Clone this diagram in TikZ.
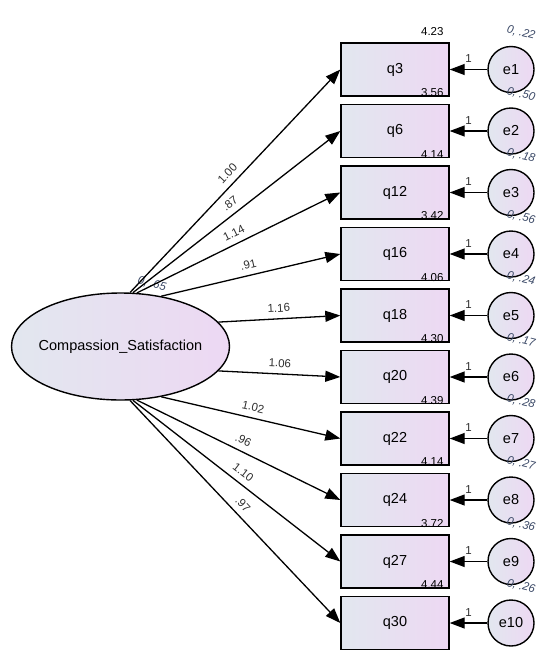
\documentclass[tikz,border=0pt]{standalone}
\usepackage{fontspec}
\setmainfont{Liberation Sans}
\usetikzlibrary{arrows.meta,shapes.geometric}
\definecolor{fillL}{HTML}{E2E7EF}
\definecolor{fillR}{HTML}{EDD8F3}
\definecolor{varblue}{HTML}{3A4866}
\definecolor{coefgray}{HTML}{2E2E2E}
\tikzset{
  obsbox/.style={draw,line width=1.4pt,minimum width=108pt,minimum height=53pt,
    left color=fillL,right color=fillR,font=\fontsize{14.5}{16}\selectfont},
  errcirc/.style={circle,draw,line width=1.4pt,minimum size=46pt,inner sep=0pt,
    left color=fillL,right color=fillR,font=\fontsize{14.5}{16}\selectfont},
  latent/.style={ellipse,draw,line width=1.4pt,minimum width=218pt,minimum height=107pt,
    inner sep=0pt,left color=fillL,right color=fillR,
    label={[font=\fontsize{14.5}{16}\selectfont]center:#1}},
  load/.style={-{Triangle[length=15pt,width=11pt]},line width=1.3pt},
  coef/.style={font=\fontsize{11.5}{13}\selectfont,text=coefgray,sloped,above=4pt,
    pos=0.5,inner sep=2pt},
  onelbl/.style={font=\fontsize{11.5}{13}\selectfont,text=coefgray,above=4pt,
    midway,inner sep=2pt},
  icpt/.style={font=\fontsize{11.5}{13}\selectfont,inner sep=0pt},
  varlbl/.style={font=\itshape\fontsize{11.5}{13}\selectfont,text=varblue,rotate=-14,
    inner sep=0pt}
}
\begin{document}
\begin{tikzpicture}[x=1pt,y=-1pt]
\useasboundingbox (0,0) rectangle (556,672);
\node[latent={Compassion\_Satisfaction}] (cs) at (120.5,346.5) {};
\node[varlbl] (csvar) at (152,284) {0, .65};
% item / error / intercept / variance / loading / start angle
\foreach \q/\e/\m/\v/\c/\a [count=\k from 0] in
  {3/1/4.23/.22/1.00/80, 6/2/3.56/.50/.87/77, 12/3/4.14/.18/1.14/73.5,
   16/4/3.42/.56/.91/51, 18/5/4.06/.24/1.16/14, 20/6/4.30/.17/1.06/-14,
   22/7/4.39/.28/1.02/-51, 24/8/4.14/.27/.96/-73.5, 27/9/3.72/.36/1.10/-77,
   30/10/4.44/.26/.97/-80}{
  \pgfmathsetmacro\yy{69.5+61.5*\k}
  \node[obsbox] (q\q) at (395,\yy) {q\q};
  \node[errcirc] (e\e) at (511,\yy) {e\e};
  \node[icpt,anchor=base east] (m\q) at ([xshift=-6pt,yshift=7pt]q\q.north east) {\m};
  \node[varlbl] (v\e) at ([xshift=10pt,yshift=13pt]e\e.north) {0, \v};
  \draw[load] (e\e) -- node[onelbl] {1} (q\q);
  \draw[load] (cs.\a) -- node[coef] {\c} (q\q.west);
}
\end{tikzpicture}
\end{document}
